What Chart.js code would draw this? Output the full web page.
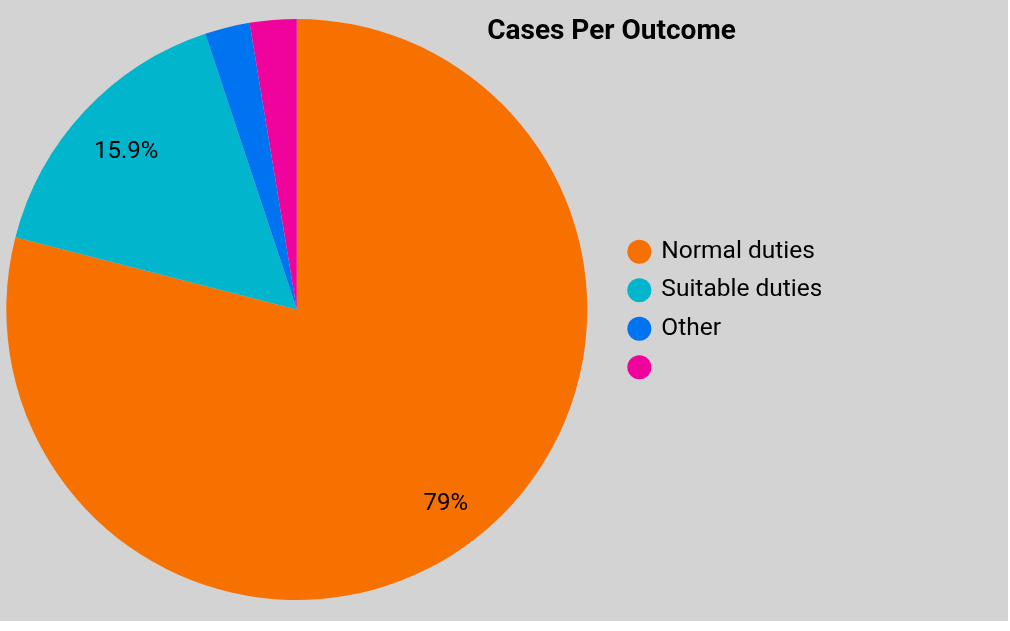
<!DOCTYPE html>
<html>
<head>
<meta charset="utf-8">
<script src="https://cdn.jsdelivr.net/npm/chart.js@4"></script>
<style>
  html, body { margin: 0; padding: 0; background: #ffffff; }
  #wrap { width: 1008px; height: 621px; background: #d3d3d3; position: relative; }
</style>
</head>
<body>
<div id="wrap"><canvas id="c"></canvas></div>
<script>
// Outcome categories and their share of cases (percent)
const categories = ['Normal duties', 'Suitable duties', 'Other', ''];
const shares = [79, 15.9, 2.5, 2.6];
const sliceColors = ['#f77100', '#00b5cc', '#0073f0', '#f0039c'];
const chartTitle = 'Cases Per Outcome';

const FONT = 'Roboto';
const LEGEND_SIZE = 24.5;
const LEGEND_BOX_W = 19.5;
const LEGEND_PAD = 14;
const GAP = 22;            // space between pie area and legend
const PIE_AREA_W = 592;    // width reserved for the pie on the left

// Work out the right padding so the pie area keeps its width
const measureCtx = document.createElement('canvas').getContext('2d');
measureCtx.font = LEGEND_SIZE + 'px ' + FONT;
const maxLabelW = Math.max(...categories.map(t => measureCtx.measureText(t).width));
const legendW = LEGEND_PAD + LEGEND_BOX_W + LEGEND_SIZE / 2 + maxLabelW;
const rightPad = 1008 - PIE_AREA_W - GAP - legendW;

// Percentage labels drawn inside the larger slices
const sliceLabels = {
  id: 'sliceLabels',
  afterDatasetsDraw(chart) {
    const { ctx } = chart;
    const meta = chart.getDatasetMeta(0);
    ctx.save();
    ctx.font = '24px ' + FONT;
    ctx.fillStyle = '#000000';
    ctx.textAlign = 'center';
    ctx.textBaseline = 'middle';
    meta.data.forEach((arc, i) => {
      const v = shares[i];
      if (v < 5) return;
      const text = v + '%';
      const w = ctx.measureText(text).width;
      const mid = (arc.startAngle + arc.endAngle) / 2;
      const r = arc.outerRadius - 25 - w / 2;
      ctx.fillText(text, arc.x + Math.cos(mid) * r, arc.y + Math.sin(mid) * r + 2);
    });
    ctx.restore();
  }
};

// Heading above the legend side of the chart
const headline = {
  id: 'headline',
  afterDraw(chart) {
    const { ctx } = chart;
    ctx.save();
    ctx.font = 'bold 28px ' + FONT;
    ctx.fillStyle = '#000000';
    ctx.textAlign = 'center';
    ctx.textBaseline = 'alphabetic';
    ctx.fillText(chartTitle, 611.5, 39);
    ctx.restore();
  }
};

new Chart(document.getElementById('c'), {
  type: 'pie',
  data: {
    labels: categories,
    datasets: [{
      data: shares,
      backgroundColor: sliceColors,
      borderWidth: 0
    }]
  },
  options: {
    responsive: true,
    maintainAspectRatio: false,
    animation: false,
    layout: { padding: { left: 0, top: 19, bottom: 21, right: rightPad } },
    plugins: {
      title: { display: false },
      tooltip: { enabled: false },
      // empty right-side box used as a gap between pie and legend
      subtitle: {
        display: true,
        text: '',
        position: 'right',
        weight: 500,
        font: { size: 1, lineHeight: 1 },
        padding: { top: 0, bottom: GAP - 1 }
      },
      legend: {
        position: 'right',
        align: 'center',
        weight: 1000,
        labels: {
          usePointStyle: true,
          pointStyle: 'circle',
          boxWidth: LEGEND_BOX_W,
          boxHeight: 17,
          padding: LEGEND_PAD,
          color: '#000000',
          font: { family: FONT, size: LEGEND_SIZE }
        }
      }
    }
  },
  plugins: [sliceLabels, headline]
});
</script>
</body>
</html>
